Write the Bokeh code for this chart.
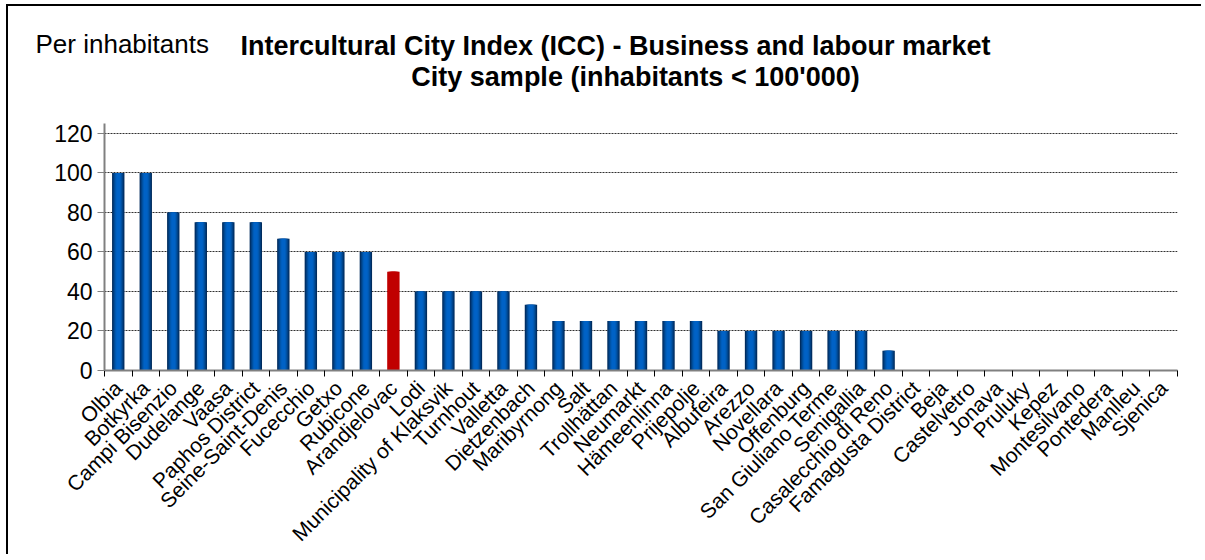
from bokeh.plotting import figure
from bokeh.models import Range1d, FixedTicker, Label, ColumnDataSource
from bokeh.embed import file_html
from bokeh.resources import INLINE
from math import pi

cities = ["Olbia", "Botkyrka", "Campi Bisenzio", "Dudelange", "Vaasa", "Paphos District",
          "Seine-Saint-Denis", "Fucecchio", "Getxo", "Rubicone", "Arandjelovac", "Lodi",
          "Municipality of Klaksvik", "Turnhout", "Valletta", "Dietzenbach", "Maribyrnong",
          "Salt", "Trollhättan", "Neumarkt", "Hämeenlinna", "Prijepolje", "Albufeira",
          "Arezzo", "Novellara", "Offenburg", "San Giuliano Terme", "Senigallia",
          "Casalecchio di Reno", "Famagusta District", "Beja", "Castelvetro", "Jonava",
          "Pruluky", "Kepez", "Montesilvano", "Pontedera", "Manlleu", "Sjenica"]
values = [100, 100, 80, 75, 75, 75, 66.7, 60, 60, 60, 50, 40, 40, 40, 40, 33.3, 25, 25, 25,
          25, 25, 25, 20, 20, 20, 20, 20, 20, 10, 0, 0, 0, 0, 0, 0, 0, 0, 0, 0]
highlight = "Arandjelovac"
y_ticks = [0, 20, 40, 60, 80, 100, 120]
title_side = "Per inhabitants"
title_line1 = "Intercultural City Index (ICC) - Business and labour market"
title_line2 = "City sample (inhabitants < 100'000)"

W, H = 1195, 550
ML, MR, MT, MB = 96, 26, 117, 184
n = len(cities)
YMAX = 125

p = figure(width=W, height=H, x_range=Range1d(0, n), y_range=Range1d(0, YMAX),
           output_backend="svg", toolbar_location=None,
           min_border_left=ML, min_border_right=MR, min_border_top=MT, min_border_bottom=MB)
p.outline_line_color = None
p.background_fill_color = "white"
p.border_fill_color = None
p.styles = {"border-left": "2px solid black", "border-top": "2px solid black",
            "margin-left": "6px", "margin-top": "4px"}

xs = [i + 0.5 for i in range(n)]

layers = [
    (0.45, "#002c5e", "#c00000"),
    (0.37, "#003f80", "#c00000"),
    (0.29, "#004f9e", "#c00000"),
    (0.21, "#005cb8", "#c00000"),
    (0.13, "#0062c6", "#c00000"),
]
for w, blue, red in layers:
    cols = [red if c == highlight else blue for c in cities]
    src = ColumnDataSource(dict(x=xs, top=values, color=cols))
    p.vbar(x="x", top="top", width=w, bottom=0, source=src, fill_color="color",
           line_color=None)

# axes
xa = p.xaxis[0]
xa.ticker = FixedTicker(ticks=xs, minor_ticks=list(range(n + 1)))
xa.major_label_overrides = {x: c for x, c in zip(xs, cities)}
xa.major_label_orientation = pi / 4
xa.major_tick_out = 0
xa.major_tick_in = 0
xa.minor_tick_out = 6
xa.minor_tick_in = 0
xa.minor_tick_line_color = "black"
xa.axis_line_color = "#808080"
xa.axis_line_width = 2
xa.major_label_text_font = "Liberation Sans"
xa.major_label_text_font_size = "21px"
xa.major_label_text_color = "black"
xa.major_label_standoff = 8

ya = p.yaxis[0]
ya.ticker = FixedTicker(ticks=y_ticks)
ya.major_tick_out = 7
ya.major_tick_in = 0
ya.minor_tick_line_color = None
ya.major_tick_line_color = "#808080"
ya.axis_line_color = "#808080"
ya.axis_line_width = 2
ya.major_label_text_font = "Liberation Sans"
ya.major_label_text_font_size = "23px"
ya.major_label_text_color = "black"
ya.major_label_standoff = 5

p.xgrid.visible = False
p.ygrid.ticker = FixedTicker(ticks=y_ticks)
p.ygrid.grid_line_color = "#303030"
p.ygrid.grid_line_dash = "2 1"
p.ygrid.grid_line_width = 1

frame_w = W - ML - MR
frame_h = H - MT - MB


def dx(px):
    # canvas pixel -> x data coordinate (through the plot's linear scale)
    return (px - ML) / frame_w * n


def dy(py):
    return YMAX + (MT - py) / frame_h * YMAX


# texts in the top panel, positioned with the plot's own scales
p.add_layout(Label(x=dx(27), y=dy(37), text=title_side, text_font="Liberation Sans",
                   text_font_size="26px", text_baseline="middle", text_align="left",
                   text_color="black"), "above")
p.add_layout(Label(x=dx(607), y=dy(39), text=title_line1, text_font="Liberation Sans",
                   text_font_size="27px", text_font_style="bold", text_baseline="middle",
                   text_align="center", text_color="black"), "above")
p.add_layout(Label(x=dx(627), y=dy(70), text=title_line2, text_font="Liberation Sans",
                   text_font_size="27px", text_font_style="bold", text_baseline="middle",
                   text_align="center", text_color="black"), "above")

open("out.html", "w").write(file_html(p, INLINE))
